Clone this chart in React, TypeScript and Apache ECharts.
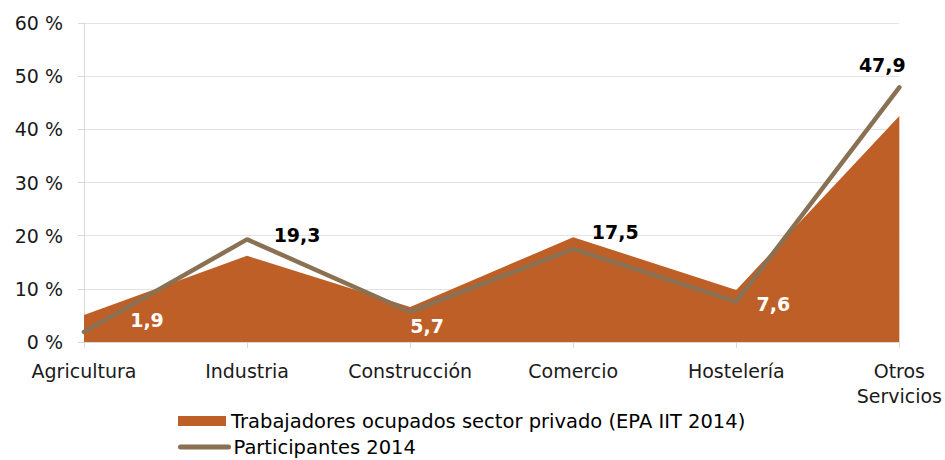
import React, { useEffect, useRef } from "react";
import * as echarts from "echarts";

const categories = ["Agricultura", "Industria", "Construcción", "Comercio", "Hostelería", "Otros\nServicios"];
const trabajadores = [5.1, 16.2, 6.6, 19.7, 9.8, 42.5];
const participantes = [1.9, 19.3, 5.7, 17.5, 7.6, 47.9];
const yTicks = [0, 10, 20, 30, 40, 50, 60];
const seriesNames = ["Trabajadores ocupados sector privado (EPA IIT 2014)", "Participantes 2014"];

const labelStyles = [
  { color: "#ffffff", offset: [63, -12] },
  { color: "#000000", offset: [50, -4] },
  { color: "#ffffff", offset: [17, 14] },
  { color: "#000000", offset: [42, -17] },
  { color: "#ffffff", offset: [37, 2] },
  { color: "#000000", offset: [-17, -22] },
];

const FONT = "DejaVu Sans, Verdana, sans-serif";

export default function App() {
  const ref = useRef<HTMLDivElement>(null);
  useEffect(() => {
    if (!ref.current) return;
    const chart = echarts.init(ref.current, undefined, { renderer: "svg" });
    const legendText = { fontSize: 19.5, lineHeight: 20, color: "#000", fontFamily: FONT };
    chart.setOption({
      animation: false,
      textStyle: { fontFamily: FONT },
      grid: { left: 84, right: 44, top: 23, bottom: 118, containLabel: false },
      legend: [
        {
          left: 178,
          top: 411,
          padding: 0,
          itemWidth: 48,
          itemHeight: 10,
          textStyle: legendText,
          data: [{ name: seriesNames[0], icon: "rect" }],
        },
        {
          left: 178,
          top: 437,
          padding: 0,
          itemWidth: 48,
          itemHeight: 10,
          textStyle: { ...legendText, lineHeight: 17 },
          data: [
            {
              name: seriesNames[1],
              itemStyle: { opacity: 0 },
              lineStyle: { width: 5, cap: "round", color: "#8A7154" },
            },
          ],
        },
      ],
      xAxis: {
        type: "category",
        data: categories,
        boundaryGap: false,
        axisLine: { lineStyle: { color: "#d9d9d9", width: 1 } },
        axisTick: { show: true, alignWithLabel: true, length: 6, lineStyle: { color: "#d9d9d9" } },
        axisLabel: { color: "#1a1a1a", fontSize: 19, margin: 16, lineHeight: 25, fontFamily: FONT, interval: 0 },
      },
      yAxis: {
        type: "value",
        min: 0,
        max: 60,
        interval: 10,
        axisLine: { show: true, lineStyle: { color: "#d9d9d9" } },
        axisTick: { show: true, length: 6, lineStyle: { color: "#d9d9d9" } },
        splitLine: { lineStyle: { color: "#e3e3e3" } },
        axisLabel: {
          color: "#1a1a1a",
          fontSize: 19,
          margin: 21,
          fontFamily: FONT,
          formatter: (v: number) => (yTicks.includes(v) ? `${v} %` : ""),
        },
      },
      series: [
        {
          name: seriesNames[0],
          type: "line",
          data: trabajadores,
          symbol: "none",
          lineStyle: { width: 0 },
          itemStyle: { color: "#BE5F27" },
          areaStyle: { color: "#BE5F27", opacity: 1 },
          z: 1,
        },
        {
          name: seriesNames[1],
          type: "line",
          data: participantes.map((v, i) => ({
            value: v,
            label: {
              show: true,
              position: "inside",
              offset: labelStyles[i].offset,
              color: labelStyles[i].color,
              fontWeight: "bold",
              fontSize: 19,
              fontFamily: FONT,
              formatter: (p: any) => String(p.value).replace(".", ","),
            },
          })),
          symbol: "circle",
          symbolSize: 1,
          showSymbol: true,
          lineStyle: { width: 4.5, color: "#8A7154", cap: "round" },
          itemStyle: { color: "#8A7154" },
          z: 2,
        },
      ],
    });
    return () => chart.dispose();
  }, []);
  return <div ref={ref} style={{ width: 945, height: 460, position: "absolute", left: 0, top: 0, background: "#fff" }} />;
}
